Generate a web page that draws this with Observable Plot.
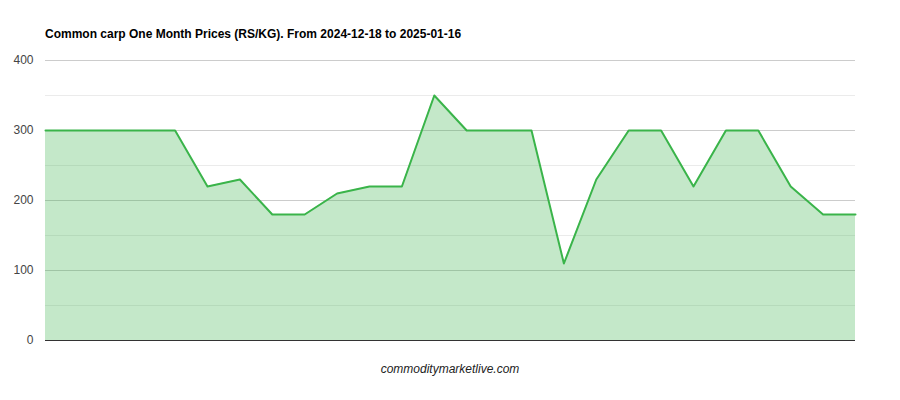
<!DOCTYPE html>
<html>
<head>
<meta charset="utf-8">
<script src="https://cdn.jsdelivr.net/npm/d3@7"></script>
<script src="https://cdn.jsdelivr.net/npm/@observablehq/plot@0.6"></script>
<style>
  html, body { margin: 0; padding: 0; background: #fff; }
  #wrap { position: relative; width: 900px; height: 400px; font-family: Arial, "Liberation Sans", sans-serif; }
  #title { position: absolute; left: 45px; top: 27px; font-size: 12px; font-weight: bold; color: #000; white-space: nowrap; }
  #caption { position: absolute; left: 0; width: 900px; top: 362px; text-align: center; font-size: 12px; font-style: italic; color: #222; }
  #chart { position: absolute; left: 0; top: 0; }
</style>
</head>
<body>
<div id="wrap">
  <div id="chart"></div>
  <div id="title">Common carp One Month Prices (RS/KG). From 2024-12-18 to 2025-01-16</div>
  <div id="caption">commoditymarketlive.com</div>
</div>
<script>
const idx = d3.range(26);
const prices = [300, 300, 300, 300, 300, 220, 230, 180, 180, 210, 220, 220, 350, 300, 300, 300, 110, 230, 300, 300, 220, 300, 300, 220, 180, 180];
const majorTicks = [0, 100, 200, 300, 400];
const minorTicks = [50, 150, 250, 350];

const data = idx.map((i) => ({x: i, y: prices[i]}));

const chart = Plot.plot({
  width: 900,
  height: 400,
  marginLeft: 45,
  marginRight: 45,
  marginTop: 60,
  marginBottom: 60,
  style: {fontFamily: "Arial, 'Liberation Sans', sans-serif", fontSize: "12px", color: "#444", background: "transparent"},
  x: {domain: [0, 25], axis: null},
  y: {domain: [0, 400], ticks: majorTicks, tickSize: 0, tickPadding: 12, label: null},
  marks: [
    Plot.ruleY(minorTicks, {stroke: "#ebebeb", strokeWidth: 1}),
    Plot.ruleY(majorTicks.slice(1), {stroke: "#cccccc", strokeWidth: 1}),
    Plot.areaY(data, {x: "x", y: "y", fill: "#3cb44b", fillOpacity: 0.3}),
    Plot.lineY(data, {x: "x", y: "y", stroke: "#3ab44a", strokeWidth: 2}),
    Plot.ruleY([0], {stroke: "#333333", strokeWidth: 1})
  ]
});
document.getElementById("chart").appendChild(chart);
</script>
</body>
</html>
